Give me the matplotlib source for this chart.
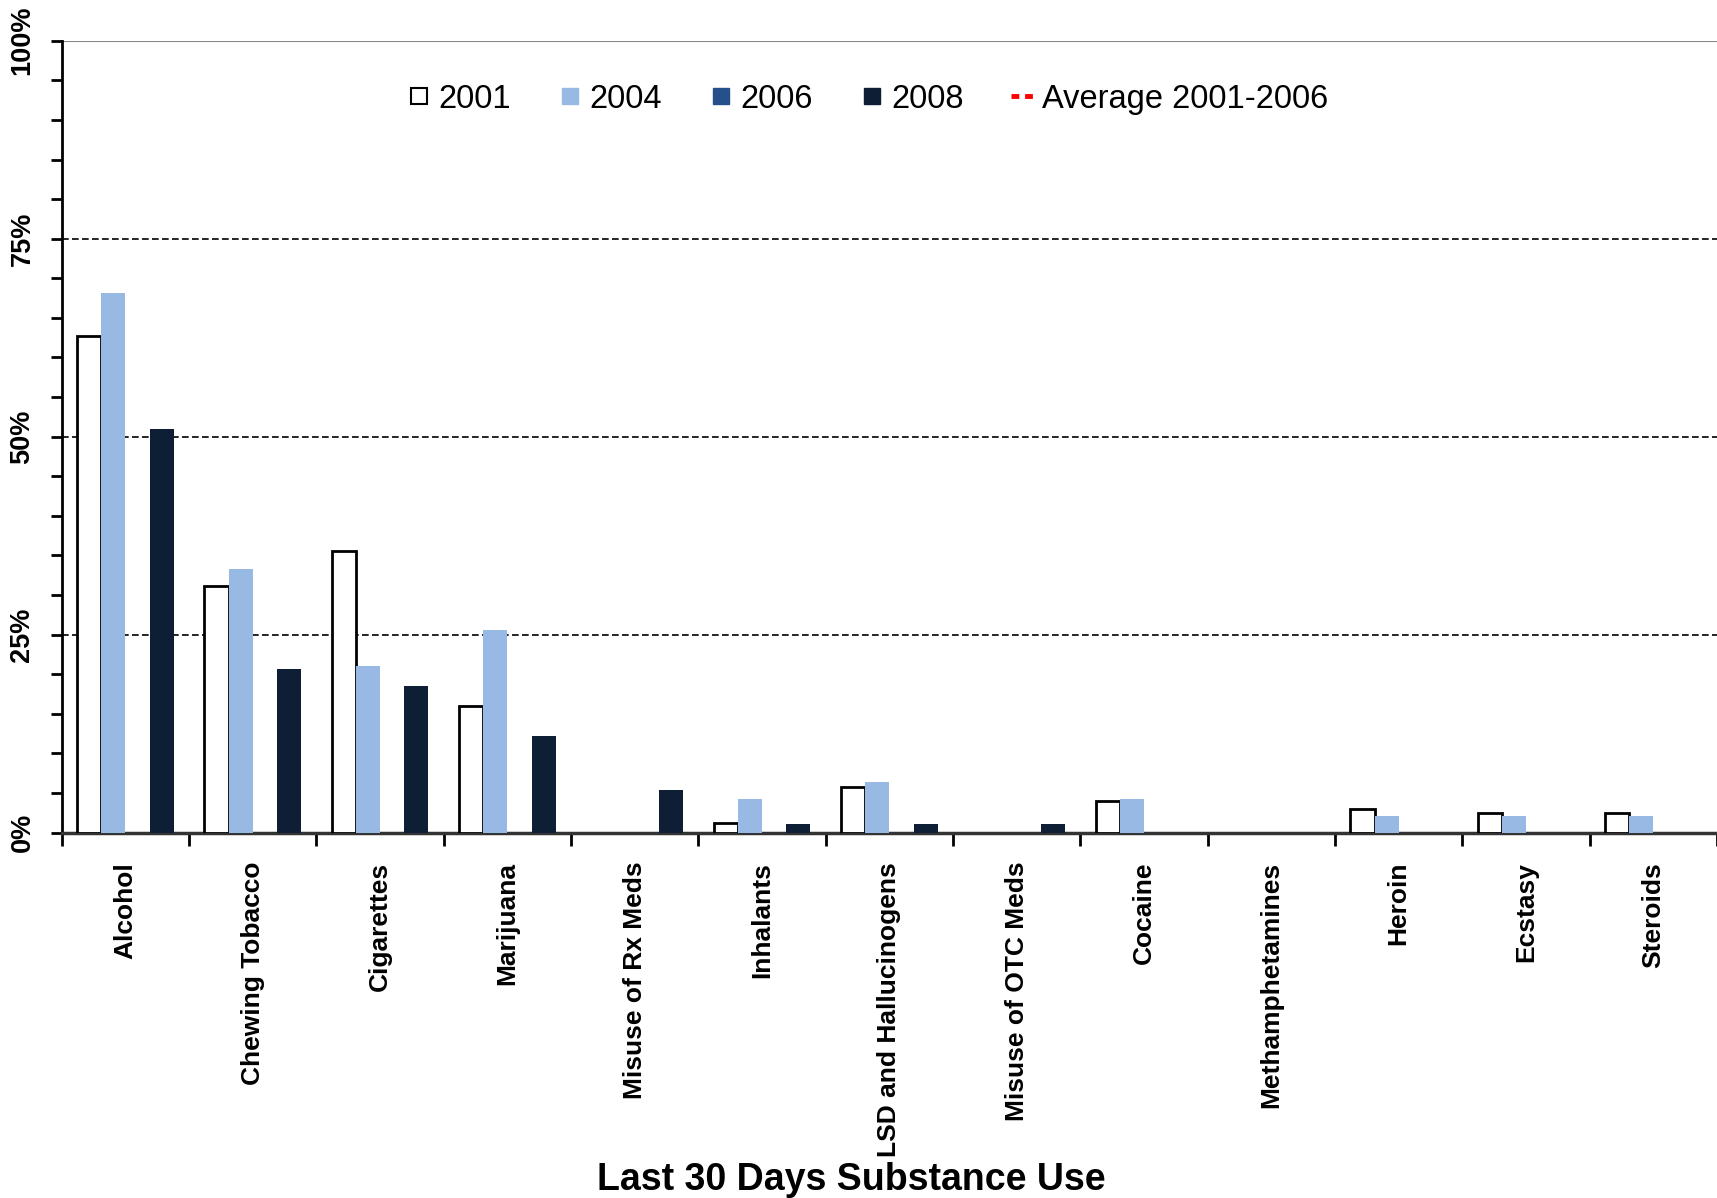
import matplotlib
matplotlib.use("Agg")
import matplotlib.pyplot as plt
from matplotlib.lines import Line2D
import numpy as np

plt.rcParams['font.family'] = ['Liberation Sans', 'DejaVu Sans']

categories = ["Alcohol", "Chewing Tobacco", "Cigarettes", "Marijuana", "Misuse of Rx Meds",
              "Inhalants", "LSD and Hallucinogens", "Misuse of OTC Meds", "Cocaine",
              "Methamphetamines", "Heroin", "Ecstasy", "Steroids"]

# percent values (nan = no bar)
nan = np.nan
y2001 = [62.7, 31.2, 35.5, 16.0, nan, 1.2, 5.8, nan, 4.0, nan, 3.0, 2.5, 2.5]
y2004 = [68.1, 33.3, 21.0, 25.6, nan, 4.3, 6.4, nan, 4.3, nan, 2.1, 2.1, 2.1]
y2006 = [nan] * 13
y2008 = [51.0, 20.7, 18.5, 12.2, 5.4, 1.1, 1.1, 1.1, nan, nan, nan, nan, nan]

c2004 = "#98b9e3"
c2006 = "#25508c"
c2008 = "#0e1f35"

fig = plt.figure(figsize=(17.17, 11.98), dpi=100)
ax = fig.add_axes([0.036, 0.305, 0.964, 0.661])

x = np.arange(len(categories))
w = 0.19
offs = [-1.5 * w, -0.5 * w, 0.5 * w, 1.5 * w]

ax.bar(x + offs[0], y2001, w, color="white", edgecolor="black", linewidth=2, zorder=3)
ax.bar(x + offs[1], y2004, w, color=c2004, zorder=3)
ax.bar(x + offs[2], y2006, w, color=c2006, zorder=3)
ax.bar(x + offs[3], y2008, w, color=c2008, zorder=3)

ax.set_xlim(-0.5, len(categories) - 0.5)
ax.set_ylim(0, 100)

for g in [25, 50, 75]:
    ax.axhline(g, color="black", linestyle=(0, (4, 2)), linewidth=1.2, zorder=1)
ax.axhline(100, color="#888888", linestyle="-", linewidth=1.5, zorder=1)

ax.spines["top"].set_visible(False)
ax.spines["right"].set_visible(False)
ax.spines["left"].set_linewidth(2)
ax.spines["bottom"].set_linewidth(2.5)
ax.spines["bottom"].set_color("#333333")

ax.set_yticks([0, 25, 50, 75, 100])
ax.set_yticklabels(["0%", "25%", "50%", "75%", "100%"], rotation=90, va="center",
                   fontsize=19.5, fontweight="bold")
ax.set_yticks(np.arange(0, 101, 5), minor=True)
ax.tick_params(axis="y", which="both", direction="out", length=8, width=2, pad=11)

ax.set_xticks(x)
ax.set_xticklabels(categories, rotation=90, va="top", ha="center",
                   fontsize=19, fontweight="bold")
ax.set_xticks(np.arange(-0.5, len(categories), 1), minor=True)
ax.tick_params(axis="x", which="major", length=0, pad=21)
ax.tick_params(axis="x", which="minor", direction="out", length=9, width=2)

fig.text(0.496, 0.0, "Last 30 Days Substance Use", ha="center", va="bottom",
         fontsize=27, fontweight="bold")

handles = [Line2D([], [], marker="s", linestyle="none", markersize=11,
                  markerfacecolor="white", markeredgecolor="black", markeredgewidth=1.5),
           Line2D([], [], marker="s", linestyle="none", markersize=12,
                  markerfacecolor=c2004, markeredgecolor=c2004),
           Line2D([], [], marker="s", linestyle="none", markersize=12,
                  markerfacecolor=c2006, markeredgecolor=c2006),
           Line2D([], [], marker="s", linestyle="none", markersize=12,
                  markerfacecolor=c2008, markeredgecolor=c2008),
           Line2D([], [], color="red", linestyle=(0, (1.6, 1.2)), linewidth=3.5)]
labels = ["2001", "2004", "2006", "2008", "Average 2001-2006"]
ax.legend(handles, labels, ncol=5, frameon=False, loc="center",
          bbox_to_anchor=(0.487, 0.926), fontsize=23.5, handlelength=0.7,
          handletextpad=0.25, columnspacing=1.45)

fig.savefig("out.png", dpi=100)
